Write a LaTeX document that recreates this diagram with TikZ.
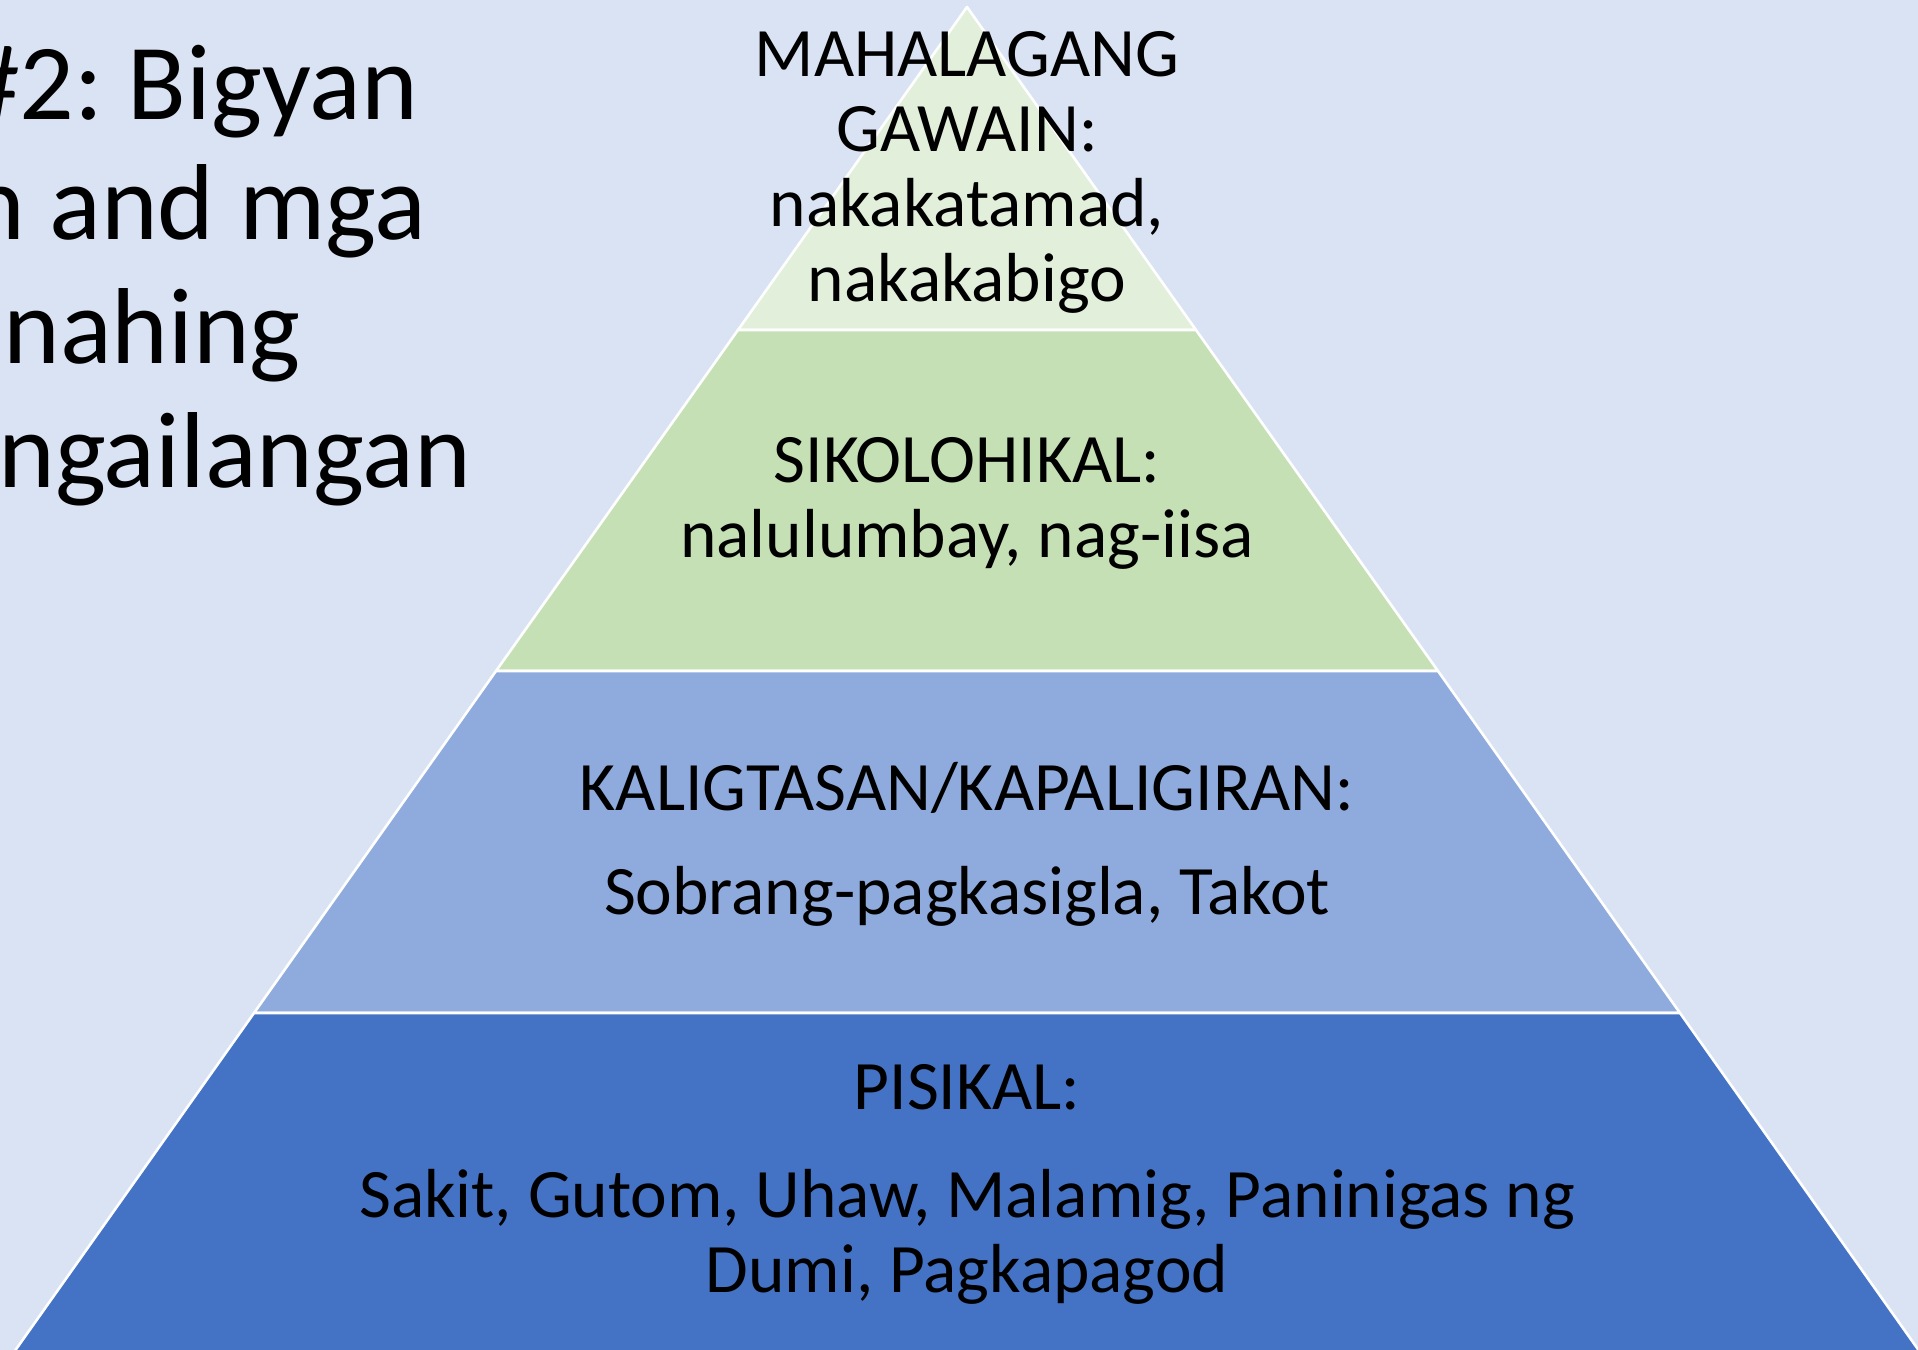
\documentclass[tikz,border=0pt]{standalone}
\usepackage{fontspec}
\setmainfont{Carlito}
\usepackage{tikz}
\usetikzlibrary{positioning,calc}
\definecolor{slidebg}{HTML}{DAE3F3}
\definecolor{lvltop}{HTML}{E2EFDA}
\definecolor{lvlpsy}{HTML}{C5E0B4}
\definecolor{lvlsafe}{HTML}{8FAADC}
\definecolor{lvlbody}{HTML}{4472C4}
\frenchspacing
\begin{document}
\begin{tikzpicture}[x=0.5pt,y=-0.5pt,every node/.style={inner sep=0pt, outer sep=0pt, text=black},
lvltext/.style={font=\fontsize{34.7}{37.5}\selectfont, align=center, anchor=base},
headtext/.style={font=\fontsize{54}{61}\selectfont, anchor=base east}]
\useasboundingbox (0,0) rectangle (1918,1350);
\clip (0,0) rectangle (1918,1350);
\fill[slidebg] (0,0) rectangle (1918,1350);
\foreach \ya/\yb/\wa/\wb/\col in {7/330/0/229/lvltop,330/671/229/471/lvlpsy,671/1013/471/713/lvlsafe,1013/1362/713/960/lvlbody} {
\draw[fill=\col,draw=white,line width=1.3pt,line join=round] (967-\wa,\ya) -- (967+\wa,\ya) -- (967+\wb,\yb) -- (967-\wb,\yb) -- cycle;
}
\node[lvltext] (gawain) at (967,301) {MAHALAGANG\\GAWAIN:\\nakakatamad,\\nakakabigo};
\node[lvltext] (sikolohikal) at (967,557) {SIKOLOHIKAL:\\nalulumbay, nag-iisa};
\node[lvltext] (kaligtasan) at (967,914) {KALIGTASAN/KAPALIGIRAN:\\[14.5pt]Sobrang-pagkasigla, Takot};
\node[lvltext] (pisikal) at (967,1292) {PISIKAL:\\[16.5pt]Sakit, Gutom, Uhaw, Malamig, Paninigas ng\\Dumi, Pagkapagod};
\node[headtext] (headone) at (418,119) {\#2: Bigyan};
\node[headtext] (headtwo) at (426,239) {n and mga};
\node[headtext] (headthree) at (301,363) {nahing};
\node[headtext] (headfour) at (471,487) {ngailangan};
\end{tikzpicture}
\end{document}
